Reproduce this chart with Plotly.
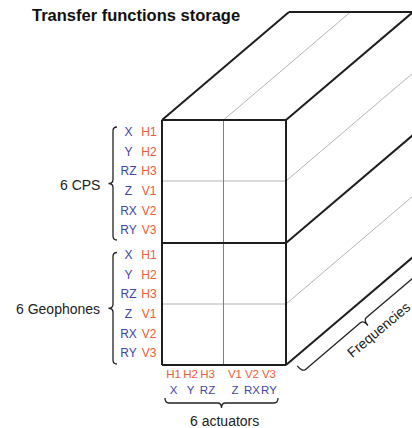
import numpy as np
import plotly.graph_objects as go

# ---------------- text content ----------------
TITLE = "Transfer functions storage"
sensor_groups = ["6 CPS", "6 Geophones"]
sensor_dofs = ["X", "Y", "RZ", "Z", "RX", "RY"]
sensor_names = ["H1", "H2", "H3", "V1", "V2", "V3"]
actuator_names = ["H1", "H2", "H3", "V1", "V2", "V3"]
actuator_dofs = ["X", "Y", "RZ", "Z", "RX", "RY"]
actuator_group = "6 actuators"
depth_label = "Frequencies"

# ---------------- geometry (pixel space) ----------------
W, H = 412, 428
BX0, BX1 = 162, 286          # front face left/right
BY0, BYM, BY1 = 120, 243, 365  # front face top / middle / bottom
DX, DY = 127, -108            # depth offset
VMID = 223.5                  # thin vertical divider
HTHIN = [181, 304]            # thin horizontal dividers

BLUE = "#3f46a6"
ORANGE = "#ef5b3a"
DARK = "#1e1e1e"
TXT = "#222222"
FONT = "Liberation Sans, Arial, sans-serif"

fig = go.Figure()

def add_lines(segs, color, width):
    xs, ys = [], []
    for (x0, y0), (x1, y1) in segs:
        xs += [x0, x1, None]
        ys += [y0, y1, None]
    fig.add_trace(go.Scatter(x=xs, y=ys, mode="lines",
                             line=dict(color=color, width=width),
                             hoverinfo="skip", showlegend=False))

def back(p):
    return (p[0] + DX, p[1] + DY)

# thin light lines
light = []
for hy in HTHIN:
    light.append(((BX0, hy), (BX1, hy)))
    light.append(((BX1, hy), back((BX1, hy))))
light.append(((VMID, BY0), back((VMID, BY0))))
add_lines(light, "#b4b4b4", 1)
# thin vertical (darker)
add_lines([((VMID, BY0), (VMID, BY1))], "#808080", 1)

# thick outline
thick = [
    ((BX0, BY0), (BX1, BY0)), ((BX1, BY0), (BX1, BY1)),
    ((BX1, BY1), (BX0, BY1)), ((BX0, BY1), (BX0, BY0)),
    ((BX0, BYM), (BX1, BYM)),
    ((BX0, BY0), back((BX0, BY0))),
    (back((BX0, BY0)), back((BX1, BY0))),
    ((BX1, BY0), back((BX1, BY0))),
    ((BX1, BYM), back((BX1, BYM))),
    ((BX1, BY1), back((BX1, BY1))),
    (back((BX1, BY0)), back((BX1, BY1))),
]
add_lines(thick, DARK, 2)

# ---------------- braces ----------------
def brace_path(A, u, n, L, d, c, r=4):
    A = np.array(A, float); u = np.array(u, float); n = np.array(n, float)
    def P(s, t):
        p = A + s * u + t * n
        return f"{p[0]:.2f},{p[1]:.2f}"
    m = L / 2
    return (f"M {P(0,0)} Q {P(0,d)} {P(r,d)} L {P(m-r,d)} "
            f"Q {P(m,d)} {P(m,d+c)} Q {P(m,d)} {P(m+r,d)} "
            f"L {P(L-r,d)} Q {P(L,d)} {P(L,0)}")

shapes = []
brace_line = dict(color=TXT, width=1.3)
group_spans = [(127, 240), (252.5, 364)]
for (y0, y1) in group_spans:
    shapes.append(dict(type="path", xref="x", yref="y",
                       path=brace_path((117, y0), (0, 1), (-1, 0), y1 - y0, 4, 4.5),
                       line=brace_line))
shapes.append(dict(type="path", xref="x", yref="y",
                   path=brace_path((165, 398), (1, 0), (0, 1), 113, 5, 5),
                   line=brace_line))
dl = np.hypot(DX, DY)
u = np.array([DX, DY]) / dl
nrm = np.array([-DY, DX]) / dl
start = np.array([BX1, BY1]) + 8 * u + 8 * nrm
shapes.append(dict(type="path", xref="x", yref="y",
                   path=brace_path(start, u, nrm, 160, 8, 7),
                   line=brace_line))

# ---------------- row labels ----------------
row_y = []
for gy in (BY0, BYM):
    row_y += [gy + 12.8 + i * 19.7 for i in range(6)]
fig.add_trace(go.Scatter(x=[128.5] * 12, y=row_y, mode="text",
                         text=sensor_dofs * 2, textposition="middle center",
                         textfont=dict(family=FONT, size=12, color=BLUE),
                         hoverinfo="skip", showlegend=False))
fig.add_trace(go.Scatter(x=[149] * 12, y=row_y, mode="text",
                         text=sensor_names * 2, textposition="middle center",
                         textfont=dict(family=FONT, size=12, color=ORANGE),
                         hoverinfo="skip", showlegend=False))

# ---------------- column labels ----------------
col_x = [gx + i * 17 for gx in (173.5, 235) for i in range(3)]
fig.add_trace(go.Scatter(x=col_x, y=[375] * 6, mode="text",
                         text=actuator_names, textposition="middle center",
                         textfont=dict(family=FONT, size=11.5, color=ORANGE),
                         hoverinfo="skip", showlegend=False))
fig.add_trace(go.Scatter(x=col_x, y=[391] * 6, mode="text",
                         text=actuator_dofs, textposition="middle center",
                         textfont=dict(family=FONT, size=11.5, color=BLUE),
                         hoverinfo="skip", showlegend=False))

# ---------------- annotations ----------------
ann = [
    dict(x=30, y=15, text=f"<b>{TITLE}</b>", xanchor="left", yanchor="middle",
         font=dict(family=FONT, size=16.5, color="#111111")),
]
for g, (y0, y1) in zip(sensor_groups, group_spans):
    ann.append(dict(x=102, y=(y0 + y1) / 2 + 1, text=g, xanchor="right", yanchor="middle",
                    font=dict(family=FONT, size=14, color=TXT)))
ann.append(dict(x=224, y=421, text=actuator_group, xanchor="center", yanchor="middle",
                font=dict(family=FONT, size=14, color=TXT)))
fp = np.array([BX1, BY1]) + 93 * u + 33 * nrm
ann.append(dict(x=fp[0], y=fp[1], text=depth_label, textangle=-40,
                xanchor="center", yanchor="middle",
                font=dict(family=FONT, size=14, color=TXT)))
for a in ann:
    a.update(xref="x", yref="y", showarrow=False)

fig.update_layout(
    width=W, height=H, margin=dict(l=0, r=0, t=0, b=0),
    paper_bgcolor="white", plot_bgcolor="white",
    xaxis=dict(range=[0, W], visible=False, fixedrange=True),
    yaxis=dict(range=[H, 0], visible=False, fixedrange=True),
    shapes=shapes, annotations=ann, showlegend=False,
)
fig.write_html("out.html", config={"displayModeBar": False},
               post_script="document.body.style.margin='0';document.body.style.overflow='hidden';")
